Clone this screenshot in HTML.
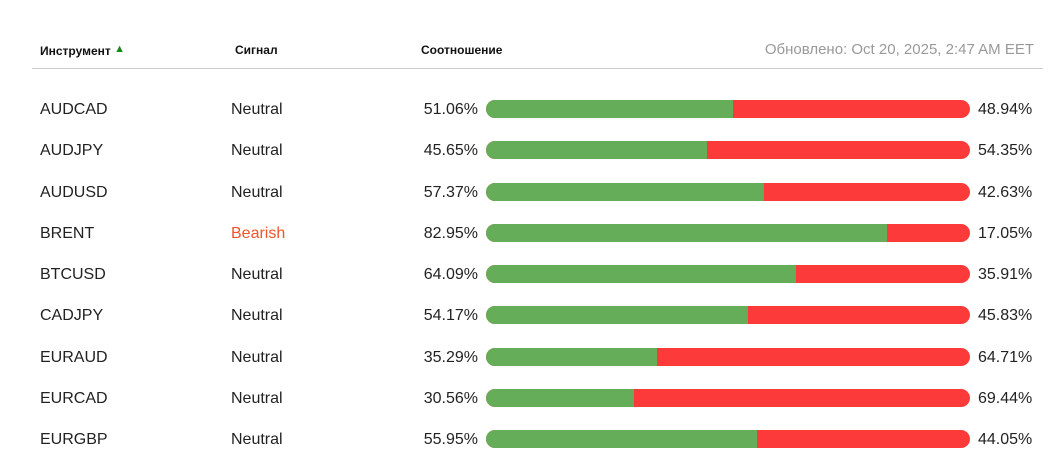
<!DOCTYPE html>
<html><head><meta charset="utf-8"><style>
body{margin:0;width:1063px;height:456px;background:#fff;font-family:"Liberation Sans",sans-serif;color:#222;position:relative;overflow:hidden}
.a{position:absolute;white-space:nowrap}
.h{font-weight:bold;font-size:12px;color:#111;top:43px}
.t{font-size:16px;line-height:20px}
.bar{position:absolute;left:486px;width:484px;height:18px;border-radius:9px;background:#fd3a3a;overflow:hidden}
.bar i{display:block;height:100%;background:#66ad5a}
</style></head><body>
<div class="a h" style="left:40px">Инструмент <span style="color:#1a8a1a;font-size:11px;vertical-align:3px">▲</span></div>
<div class="a h" style="left:235px">Сигнал</div>
<div class="a h" style="left:421px">Соотношение</div>
<div class="a" style="right:29px;top:41px;font-size:15px;color:#999">Обновлено: Oct 20, 2025, 2:47 AM EET</div>
<div class="a" style="left:32px;top:68px;width:1011px;height:1px;background:#ccc"></div>
<div id="rows"></div>
<script>
var d=[["AUDCAD","Neutral",51.06],["AUDJPY","Neutral",45.65],["AUDUSD","Neutral",57.37],["BRENT","Bearish",82.95],["BTCUSD","Neutral",64.09],["CADJPY","Neutral",54.17],["EURAUD","Neutral",35.29],["EURCAD","Neutral",30.56],["EURGBP","Neutral",55.95]];
var h="";d.forEach(function(r,i){var y=109+i*41.25;var t=y-9;
h+='<div class="a t" style="left:40px;top:'+t+'px">'+r[0]+'</div>';
h+='<div class="a t" style="left:231px;top:'+t+'px;color:'+(r[1]=="Bearish"?"#f0542a":"#222")+'">'+r[1]+'</div>';
h+='<div class="a t" style="right:585px;top:'+t+'px">'+r[2].toFixed(2)+'%</div>';
h+='<div class="bar" style="top:'+(y-9)+'px"><i style="width:'+r[2]+'%"></i></div>';
h+='<div class="a t" style="left:978px;top:'+t+'px">'+(100-r[2]).toFixed(2)+'%</div>';});
document.getElementById("rows").innerHTML=h;
</script>
</body></html>
